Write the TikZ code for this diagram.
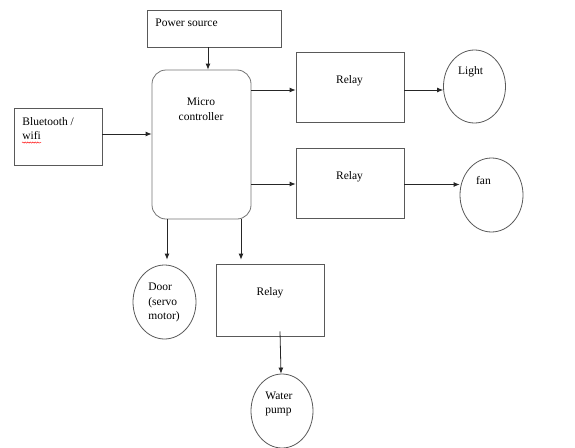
\documentclass[tikz,border=0pt]{standalone}
\usepackage{fontspec}
\setmainfont{Liberation Serif}
\usepackage{tikz}
\usetikzlibrary{shapes}
\usetikzlibrary{arrows.meta}
\usetikzlibrary{decorations.pathmorphing}
\usetikzlibrary{positioning}
\tikzstyle{blk}=[rectangle,draw=black!65,inner sep=0mm]
\tikzstyle{ctrl}=[rectangle,draw=black!55,rounded corners=14pt,inner sep=0mm]
\tikzstyle{load}=[ellipse,draw=black!65,inner sep=0mm]
\tikzstyle{lbl}=[inner sep=0mm,font=\fontsize{11.5}{14.5}\selectfont]
\tikzstyle{arrow}=[-{Latex[length=6pt,width=5pt]},draw=black!85]
\tikzset{every picture/.style={
    line width=0.8pt
  }
}

\begin{document}
\begin{tikzpicture}[x=1pt,y=-1pt]
      \useasboundingbox (0,0) rectangle (575,447);
      % blocks
      \node[blk,minimum width=134pt,minimum height=37pt] at (214,28.5) (pwr) {};
      \node[ctrl,minimum width=99pt,minimum height=149pt] at (201.5,144.5) (mc) {};
      \node[blk,minimum width=88pt,minimum height=57pt] at (58,136.5) (bt) {};
      \node[blk,minimum width=108pt,minimum height=70pt] at (350,87) (rl1) {};
      \node[blk,minimum width=108pt,minimum height=70pt] at (350,183) (rl2) {};
      \node[blk,minimum width=108pt,minimum height=72pt] at (270,300) (rl3) {};
      \node[load,minimum width=62pt,minimum height=73pt] at (474.5,86.5) (lgt) {};
      \node[load,minimum width=63pt,minimum height=74pt] at (491.5,195) (fan) {};
      \node[load,minimum width=63pt,minimum height=74pt] at (164.5,302) (door) {};
      \node[load,minimum width=62pt,minimum height=74pt] at (282,411) (pump) {};
      % texts
      \node[lbl,anchor=base west] at (155,26.5) (pwrt) {Power source};
      \node[lbl,anchor=north,align=center] at (201,97.7) (mct) {Micro\\controller};
      \node[lbl,anchor=north west,align=left] at (22,116.7) (btt) {Bluetooth /\\wifi};
      \node[lbl,anchor=base] at (349.5,83.5) (rl1t) {Relay};
      \node[lbl,anchor=base] at (349.5,179) (rl2t) {Relay};
      \node[lbl,anchor=base] at (270,295.7) (rl3t) {Relay};
      \node[lbl,anchor=base] at (470.5,74.7) (lgtt) {Light};
      \node[lbl,anchor=base] at (483.5,184.5) (fant) {fan};
      \node[lbl,anchor=north west,align=left] at (148,283) (doort) {Door\\(servo\\motor)};
      \node[lbl,anchor=north west,align=left] at (265,391.4) (pumpt) {Water\\pump};
      \draw[red,line width=0.4pt,decorate,decoration={snake,amplitude=0.6pt,segment length=2.5pt}]
        ([yshift=-2.5pt]btt.south west) -- ([xshift=19pt,yshift=-2.5pt]btt.south west);
      % connections
      \draw[arrow] ([xshift=-6pt]pwr.south) -- ([xshift=-6pt]pwr.south |- mc.north);
      \draw[arrow] ([yshift=2.5pt]bt.east) -- ([yshift=2.5pt]bt.east -| mc.west);
      \draw[arrow] ([yshift=54.5pt]mc.east) -- ([yshift=-3pt]rl1.west);
      \draw[arrow] ([yshift=-3pt]rl1.east) -- ([yshift=-3pt]rl1.east -| lgt.west);
      \draw[arrow] ([yshift=-39.5pt]mc.east) -- ([yshift=-1pt]rl2.west);
      \draw[arrow] ([yshift=-1.5pt]rl2.east) -- ([yshift=-1.5pt]rl2.east -| fan.west);
      \draw[arrow] ([xshift=-34.5pt]mc.south) -- ([xshift=2.5pt,yshift=5pt]door.north);
      \draw[arrow] ([xshift=39.5pt]mc.south) -- ([xshift=-29pt,yshift=4pt]rl3.north);
      \draw[arrow] ([xshift=10pt,yshift=5pt]rl3.south) -- ([xshift=-1pt]pump.north);
    \end{tikzpicture}
\end{document}
